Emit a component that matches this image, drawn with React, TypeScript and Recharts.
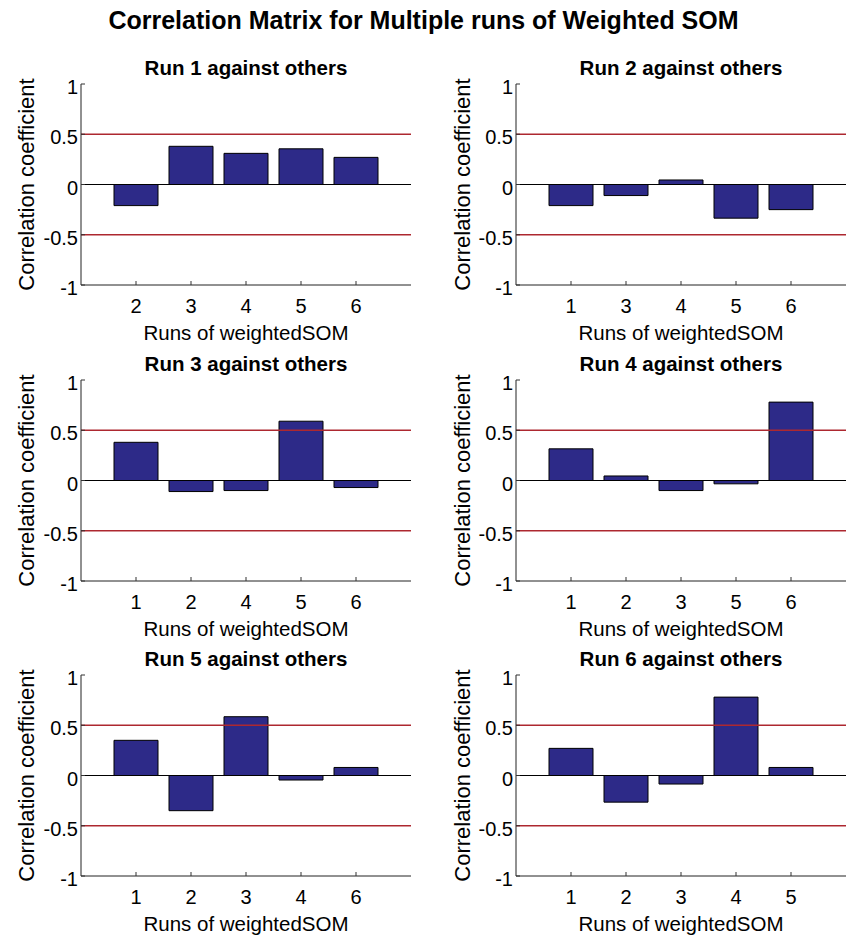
import React from 'react';
import { BarChart, Bar, XAxis, YAxis, ReferenceLine } from 'recharts';

const mainTitle = 'Correlation Matrix for Multiple runs of Weighted SOM';
const xAxisTitle = 'Runs of weightedSOM';
const yAxisTitle = 'Correlation coefficient';
const yTicks = [-1, -0.5, 0, 0.5, 1];
const thresholdLines = [0.5, -0.5];

const run1Title = 'Run 1 against others';
const run1Labels = ['2', '3', '4', '5', '6'];
const run1Values = [-0.21, 0.38, 0.31, 0.355, 0.27];

const run2Title = 'Run 2 against others';
const run2Labels = ['1', '3', '4', '5', '6'];
const run2Values = [-0.21, -0.11, 0.045, -0.335, -0.25];

const run3Title = 'Run 3 against others';
const run3Labels = ['1', '2', '4', '5', '6'];
const run3Values = [0.38, -0.11, -0.1, 0.59, -0.07];

const run4Title = 'Run 4 against others';
const run4Labels = ['1', '2', '3', '5', '6'];
const run4Values = [0.315, 0.045, -0.1, -0.033, 0.78];

const run5Title = 'Run 5 against others';
const run5Labels = ['1', '2', '3', '4', '6'];
const run5Values = [0.35, -0.35, 0.585, -0.045, 0.08];

const run6Title = 'Run 6 against others';
const run6Labels = ['1', '2', '3', '4', '5'];
const run6Values = [0.27, -0.265, -0.085, 0.78, 0.08];

const FONT = '"Liberation Sans", Arial, Helvetica, sans-serif';
const BAR_FILL = '#2d2a88';
const RED = '#ad2830';
const BOX = '#222';

const PLOT_W = 330;
const PLOT_H = 201;
const Y_AXIS_W = 81;
const X_AXIS_H = 60;
const TOP_M = 10;
const BOTTOM_M = 4;
const X_TICK_GAP = 21;
const Y_TICK_GAP = 3;
const TICK_FS = 20;
const XLABEL_FS = 20.5;
const YLABEL_FS = 22;
const TITLE_FS = 20.5;

const BottomTick = (props: any) => {
  const { x, y, payload } = props;
  return (
    <g>
      <line x1={x} x2={x} y1={y - X_TICK_GAP} y2={y - X_TICK_GAP - 4} stroke="#333" strokeWidth={1} />
      <text x={x} y={y} dy="0.355em" textAnchor="middle" fill="#000" fontSize={TICK_FS} fontFamily={FONT}>
        {payload.value}
      </text>
    </g>
  );
};

const TopTick = (props: any) => {
  const { x, y } = props;
  return <line x1={x} x2={x} y1={y} y2={y + 4} stroke="#333" strokeWidth={1} />;
};

const LeftTick = (props: any) => {
  const { x, y, payload } = props;
  return (
    <g>
      <line x1={x + Y_TICK_GAP} x2={x + Y_TICK_GAP + 4} y1={y} y2={y} stroke="#333" strokeWidth={1} />
      <text x={x} y={y} dy="0.5em" textAnchor="end" fill="#000" fontSize={TICK_FS} fontFamily={FONT}>
        {payload.value}
      </text>
    </g>
  );
};

const RightTick = (props: any) => {
  const { x, y } = props;
  return <line x1={x} x2={x - 4} y1={y} y2={y} stroke="#333" strokeWidth={1} />;
};

type PanelProps = {
  title: string;
  labels: string[];
  values: number[];
  chartLeft: number;
  plotTop: number;
  rightMargin: number;
  yLabelOffset: number;
};

function Panel({ title, labels, values, chartLeft, plotTop, rightMargin, yLabelOffset }: PanelProps) {
  const data = labels.map((run, i) => ({ run, r: values[i] }));
  const width = Y_AXIS_W + PLOT_W + rightMargin;
  const height = TOP_M + PLOT_H + X_AXIS_H + BOTTOM_M;
  const pad = PLOT_W / (labels.length + 1) / 2;
  const plotCenterX = chartLeft + Y_AXIS_W + PLOT_W / 2;
  return (
    <>
      <div
        style={{
          position: 'absolute',
          left: plotCenterX - 200,
          width: 400,
          top: plotTop - 16 - 10,
          height: 20,
          lineHeight: '20px',
          fontSize: TITLE_FS,
          fontWeight: 'bold',
          textAlign: 'center',
          color: '#000',
          fontFamily: FONT,
          whiteSpace: 'nowrap',
        }}
      >
        {title}
      </div>
      <div style={{ position: 'absolute', left: chartLeft, top: plotTop - TOP_M, width, height }}>
        <BarChart
          width={width}
          height={height}
          data={data}
          margin={{ top: TOP_M, right: rightMargin, bottom: BOTTOM_M, left: 0 }}
          barCategoryGap="10%"
        >
          <XAxis
            dataKey="run"
            type="category"
            interval={0}
            height={X_AXIS_H}
            padding={{ left: pad, right: pad }}
            axisLine={{ stroke: BOX, strokeWidth: 1 }}
            tickLine={false}
            tickSize={0}
            tickMargin={X_TICK_GAP}
            tick={<BottomTick />}
            label={{
              value: xAxisTitle,
              position: 'insideBottom',
              offset: 5,
              fill: '#000',
              fontSize: XLABEL_FS,
              fontFamily: FONT,
            }}
          />
          <XAxis
            xAxisId="top"
            dataKey="run"
            type="category"
            orientation="top"
            interval={0}
            height={0}
            padding={{ left: pad, right: pad }}
            axisLine={{ stroke: BOX, strokeWidth: 1 }}
            tickLine={false}
            tickSize={0}
            tickMargin={0}
            tick={<TopTick />}
          />
          <YAxis
            type="number"
            domain={[-1, 1]}
            ticks={yTicks}
            interval={0}
            width={Y_AXIS_W}
            axisLine={{ stroke: BOX, strokeWidth: 1 }}
            tickLine={false}
            tickSize={0}
            tickMargin={Y_TICK_GAP}
            tick={<LeftTick />}
            label={{
              value: yAxisTitle,
              angle: -90,
              position: 'insideLeft',
              offset: yLabelOffset,
              fill: '#000',
              fontSize: YLABEL_FS,
              fontFamily: FONT,
              style: { textAnchor: 'middle' },
            }}
          />
          <YAxis
            yAxisId="right"
            orientation="right"
            type="number"
            domain={[-1, 1]}
            ticks={yTicks}
            interval={0}
            width={0}
            axisLine={{ stroke: BOX, strokeWidth: 1 }}
            tickLine={false}
            tickSize={0}
            tickMargin={0}
            tick={<RightTick />}
          />
          <Bar dataKey="r" fill={BAR_FILL} stroke="#000" strokeWidth={1} isAnimationActive={false} />
          <ReferenceLine y={0} stroke="#000" strokeWidth={1} />
          {thresholdLines.map((v) => (
            <ReferenceLine key={v} y={v} stroke={RED} strokeWidth={1.3} />
          ))}
        </BarChart>
      </div>
    </>
  );
}

const LEFT_COL = 0;
const RIGHT_COL = 435;
const ROW_TOPS = [84, 380, 675];

export default function App() {
  return (
    <div
      style={{
        position: 'absolute',
        left: 0,
        top: 0,
        width: 847,
        height: 937,
        background: '#fff',
        fontFamily: FONT,
        overflow: 'hidden',
      }}
    >
      <div
        style={{
          position: 'absolute',
          left: 0,
          width: 847,
          top: 8,
          height: 25,
          lineHeight: '25px',
          fontSize: 25,
          fontWeight: 'bold',
          textAlign: 'center',
          color: '#000',
          whiteSpace: 'nowrap',
        }}
      >
        {mainTitle}
      </div>
      <Panel title={run1Title} labels={run1Labels} values={run1Values} chartLeft={LEFT_COL} plotTop={ROW_TOPS[0]} rightMargin={12} yLabelOffset={26} />
      <Panel title={run2Title} labels={run2Labels} values={run2Values} chartLeft={RIGHT_COL} plotTop={ROW_TOPS[0]} rightMargin={1} yLabelOffset={27} />
      <Panel title={run3Title} labels={run3Labels} values={run3Values} chartLeft={LEFT_COL} plotTop={ROW_TOPS[1]} rightMargin={12} yLabelOffset={26} />
      <Panel title={run4Title} labels={run4Labels} values={run4Values} chartLeft={RIGHT_COL} plotTop={ROW_TOPS[1]} rightMargin={1} yLabelOffset={27} />
      <Panel title={run5Title} labels={run5Labels} values={run5Values} chartLeft={LEFT_COL} plotTop={ROW_TOPS[2]} rightMargin={12} yLabelOffset={26} />
      <Panel title={run6Title} labels={run6Labels} values={run6Values} chartLeft={RIGHT_COL} plotTop={ROW_TOPS[2]} rightMargin={1} yLabelOffset={27} />
    </div>
  );
}
